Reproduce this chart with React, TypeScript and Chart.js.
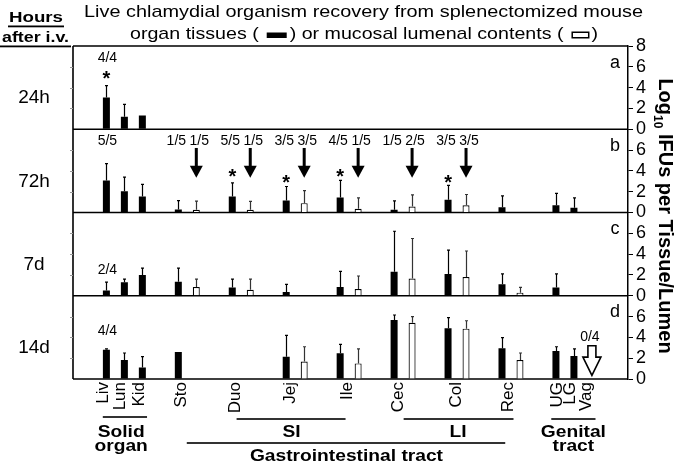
import React, { useEffect, useRef } from 'react';
import { Chart, registerables } from 'chart.js';
Chart.register(...registerables);

const FONT = '"Liberation Sans", Arial, Helvetica, sans-serif';

// ---- categories ----
const organs = ['Liv', 'Lun', 'Kid', 'Sto', 'Duo', 'Jej', 'Ile', 'Cec', 'Col', 'Rec', 'UG', 'LG', 'Vag'];
const tissueSlot = [0, 1, 2, 4, 7, 10, 13, 16, 19, 22, 25, 26, 27];
const lumenSlot = [null, null, null, 5, 8, 11, 14, 17, 20, 23, null, null, null];
const organLabelPos = [-0.15, 0.8, 1.85, 4.15, 7.15, 10.25, 13.4, 16.25, 19.45, 22.35, 25.05, 25.8, 26.7];
const timeLabels = ['24h', '72h', '7d', '14d'];
const panelLetters = ['a', 'b', 'c', 'd'];

// ---- values (log10 IFUs) and upward SD ----
const tissue24h = [3.05, 1.2, 1.33, null, null, null, null, null, null, null, null, null, null];
const tissue24hSD = [1.15, 1.2, null, null, null, null, null, null, null, null, null, null, null];
const lumen24h = [null, null, null, null, null, null, null, null, null, null, null, null, null];
const lumen24hSD = [null, null, null, null, null, null, null, null, null, null, null, null, null];

const tissue72h = [3.08, 2.05, 1.54, 0.29, 1.54, 1.15, 1.44, 0.26, 1.22, 0.51, 0.7, 0.45, 0.04];
const tissue72hSD = [1.62, 1.35, 1.16, 0.86, 1.31, 1.35, 1.64, 0.86, 1.38, 1.09, 1.13, 0.95, null];
const lumen72h = [null, null, null, 0.26, 0.26, 0.9, 0.35, 0.58, 0.7, 0.04, null, null, null];
const lumen72hSD = [null, null, null, 0.84, 0.8, 1.2, 1.05, 1.12, 1.03, null, null, null, null];

const tissue7d = [0.5, 1.3, 2.0, 1.35, 0.8, 0.35, 0.84, 2.3, 2.09, 1.1, 0.8, null, null];
const tissue7dSD = [0.8, 0.3, 0.66, 1.31, 0.8, 0.75, 1.5, 3.9, 2.3, 1.0, 1.3, null, null];
const lumen7d = [null, null, null, 0.84, 0.58, null, 0.65, 1.65, 1.8, 0.3, null, null, null];
const lumen7dSD = [null, null, null, 0.76, 1.02, null, 1.25, 3.85, 2.5, 0.5, null, null, null];

const tissue14d = [2.8, 1.83, 1.1, 2.6, null, 2.15, 2.47, 5.67, 4.87, 2.95, 2.7, 2.2, null];
const tissue14dSD = [0.1, 0.67, 1.05, null, null, 2.05, 0.86, 0.48, 1.03, 1.02, 0.4, 0.7, null];
const lumen14d = [null, null, null, null, null, 1.67, 1.5, 5.4, 4.84, 1.83, null, null, null];
const lumen14dSD = [null, null, null, null, null, 1.43, 1.4, 0.6, 0.76, 0.67, null, null, null];

// ---- annotations ----
const fractionNotes = [
  { panel: 0, organ: 0, lumen: false, text: '4/4', y: 6.8 },
  { panel: 1, organ: 0, lumen: false, text: '5/5', y: 6.9 },
  { panel: 1, organ: 3, lumen: false, text: '1/5', y: 6.9 },
  { panel: 1, organ: 3, lumen: true, text: '1/5', y: 6.9 },
  { panel: 1, organ: 4, lumen: false, text: '5/5', y: 6.9 },
  { panel: 1, organ: 4, lumen: true, text: '1/5', y: 6.9 },
  { panel: 1, organ: 5, lumen: false, text: '3/5', y: 6.9 },
  { panel: 1, organ: 5, lumen: true, text: '3/5', y: 6.9 },
  { panel: 1, organ: 6, lumen: false, text: '4/5', y: 6.9 },
  { panel: 1, organ: 6, lumen: true, text: '1/5', y: 6.9 },
  { panel: 1, organ: 7, lumen: false, text: '1/5', y: 6.9 },
  { panel: 1, organ: 7, lumen: true, text: '2/5', y: 6.9 },
  { panel: 1, organ: 8, lumen: false, text: '3/5', y: 6.9 },
  { panel: 1, organ: 8, lumen: true, text: '3/5', y: 6.9 },
  { panel: 2, organ: 0, lumen: false, text: '2/4', y: 2.5 },
  { panel: 3, organ: 0, lumen: false, text: '4/4', y: 4.6 },
  { panel: 3, organ: 12, lumen: false, text: '0/4', y: 4.0 },
];
const starNotes = [
  { panel: 0, organ: 0, y: 5.35 },
  { panel: 1, organ: 4, y: 3.85 },
  { panel: 1, organ: 5, y: 3.27 },
  { panel: 1, organ: 6, y: 3.85 },
  { panel: 1, organ: 8, y: 3.27 },
];
const arrowOrgans72h = [3, 4, 5, 6, 7, 8];
const hollowArrowOrgan14d = 12;

const groups = [
  { lines: ['Solid', 'organ'], from: -0.2, to: 2.26, textAt: 0.82, row: 0 },
  { lines: ['SI'], from: 7.24, to: 13.3, textAt: 10.3, row: 0 },
  { lines: ['LI'], from: 16.53, to: 22.64, textAt: 19.56, row: 0 },
  { lines: ['Genital', 'tract'], from: 24.74, to: 27.2, textAt: 25.97, row: 0 },
  { lines: ['Gastrointestinal tract'], from: 4.47, to: 22.18, textAt: 13.35, row: 1 },
];

const axisIds = ['ya', 'yb', 'yc', 'yd'];
const panelData = [
  { t: tissue24h, tsd: tissue24hSD, l: lumen24h, lsd: lumen24hSD },
  { t: tissue72h, tsd: tissue72hSD, l: lumen72h, lsd: lumen72hSD },
  { t: tissue7d, tsd: tissue7dSD, l: lumen7d, lsd: lumen7dSD },
  { t: tissue14d, tsd: tissue14dSD, l: lumen14d, lsd: lumen14dSD },
];

function buildSeries(values: (number | null)[], sds: (number | null)[], slots: (number | null)[]) {
  const data: { x: number; y: number }[] = [];
  const sd: (number | null)[] = [];
  values.forEach((v, i) => {
    if (v == null || slots[i] == null) return;
    data.push({ x: slots[i] as number, y: v });
    sd.push(sds[i]);
  });
  return { data, sd };
}

const datasets: any[] = [];
panelData.forEach((p, pi) => {
  const t = buildSeries(p.t, p.tsd, tissueSlot);
  const l = buildSeries(p.l, p.lsd, lumenSlot);
  datasets.push({
    label: 'tissue ' + timeLabels[pi], data: t.data, sd: t.sd, yAxisID: axisIds[pi],
    backgroundColor: '#000', borderWidth: 0, grouped: false, maxBarThickness: 7,
  });
  datasets.push({
    label: 'lumen ' + timeLabels[pi], data: l.data, sd: l.sd, yAxisID: axisIds[pi],
    backgroundColor: '#fff', borderColor: '#000', borderWidth: 1.2, grouped: false, maxBarThickness: 7,
  });
});

function drawText(ctx: CanvasRenderingContext2D, s: string, x: number, y: number, font: string,
  o: { align?: CanvasTextAlign; baseline?: CanvasTextBaseline; sx?: number; width?: number } = {}) {
  ctx.save();
  ctx.font = font;
  ctx.fillStyle = '#000';
  ctx.textAlign = o.align || 'center';
  ctx.textBaseline = o.baseline || 'alphabetic';
  const w = ctx.measureText(s).width;
  const sx = o.width ? o.width / w : (o.sx || 1);
  ctx.translate(x, y);
  ctx.scale(sx, 1);
  ctx.fillText(s, 0, 0);
  ctx.restore();
}

const decor = {
  id: 'decor',
  beforeDatasetsDraw(chart: any) {
    const { ctx, chartArea: ca, scales } = chart;
    ctx.save();
    ctx.strokeStyle = '#000';
    ctx.lineWidth = 1.6;
    ctx.beginPath();
    const top = scales.ya.getPixelForValue(8);
    ctx.moveTo(ca.left, top); ctx.lineTo(ca.right, top);
    axisIds.forEach((id) => {
      const y0 = scales[id].getPixelForValue(0);
      ctx.moveTo(ca.left, y0); ctx.lineTo(ca.right, y0);
    });
    ctx.moveTo(ca.left, top); ctx.lineTo(ca.left, ca.bottom);
    ctx.stroke();
    ctx.strokeStyle = '#999';
    ctx.lineWidth = 1;
    ctx.beginPath();
    axisIds.forEach((id) => {
      [2, 4, 6].forEach((v) => {
        const y = Math.round(scales[id].getPixelForValue(v)) + 0.5;
        ctx.moveTo(ca.left - 3, y); ctx.lineTo(ca.left, y);
      });
    });
    ctx.stroke();
    ctx.restore();
  },
  afterDatasetsDraw(chart: any) {
    const { ctx, scales } = chart;
    ctx.save();
    chart.data.datasets.forEach((ds: any, di: number) => {
      const meta = chart.getDatasetMeta(di);
      const ys = scales[ds.yAxisID];
      meta.data.forEach((el: any, i: number) => {
        const sd = ds.sd[i];
        if (sd == null) return;
        const v = ds.data[i].y;
        const topY = ys.getPixelForValue(v + sd);
        const x = Math.round(el.x) + 0.5;
        ctx.strokeStyle = di % 2 ? '#333' : '#000';
        ctx.lineWidth = 1.2;
        ctx.beginPath();
        ctx.moveTo(x, el.y); ctx.lineTo(x, topY);
        ctx.moveTo(x - 1.5, topY); ctx.lineTo(x + 1.5, topY);
        ctx.stroke();
      });
    });
    ctx.restore();
  },
  afterDraw(chart: any) {
    const { ctx, chartArea: ca, scales } = chart;
    const xs = scales.x;
    const px = (slot: number) => xs.getPixelForValue(slot);
    ctx.save();

    // Title
    const tFont = '17px ' + FONT;
    drawText(ctx, 'Live chlamydial organism recovery from splenectomized mouse', 363.5, 17, tFont, { width: 559 });
    ctx.font = tFont;
    const s1 = 'organ tissues (', s2 = ') or mucosal lumenal contents (', s3 = ')';
    const w1 = ctx.measureText(s1).width, w2 = ctx.measureText(s2).width, w3 = ctx.measureText(s3).width;
    const r1 = 20, r2 = 18, g1 = 8, g2 = 3, g3 = 8, g4 = 2;
    const totalW = 468;
    const sx = (totalW - r1 - r2 - g1 - g2 - g3 - g4) / (w1 + w2 + w3);
    let cx = 364 - totalW / 2;
    const by = 39;
    drawText(ctx, s1, cx, by, tFont, { align: 'left', sx }); cx += w1 * sx + g1;
    ctx.fillStyle = '#000'; ctx.fillRect(cx, 32.5, r1, 5.5); cx += r1 + g2;
    drawText(ctx, s2, cx, by, tFont, { align: 'left', sx }); cx += w2 * sx + g3;
    ctx.fillStyle = '#fff'; ctx.fillRect(cx, 32, r2, 6);
    ctx.strokeStyle = '#000'; ctx.lineWidth = 1.5; ctx.strokeRect(cx + 0.75, 32.25, r2 - 1.5, 5.5); cx += r2 + g4;
    drawText(ctx, s3, cx, by, tFont, { align: 'left', sx });

    // Hours after i.v.
    const hFont = 'bold 15px ' + FONT;
    drawText(ctx, 'Hours', 36, 22, hFont, { width: 54 });
    drawText(ctx, 'after i.v.', 35.5, 42, hFont, { width: 67 });
    ctx.fillStyle = '#000';
    ctx.fillRect(8, 25.5, 56, 1.8);
    ctx.fillRect(0, 45.5, 71, 1.8);

    // time labels and panel letters
    axisIds.forEach((id, pi) => {
      const ys = scales[id];
      drawText(ctx, timeLabels[pi], 34, ys.getPixelForValue(3), '19px ' + FONT, { baseline: 'middle' });
      drawText(ctx, panelLetters[pi], ca.right - 13, ys.getPixelForValue(6.4), '18px ' + FONT, { baseline: 'middle' });
    });

    // fractions
    fractionNotes.forEach((f) => {
      const slot = f.lumen ? lumenSlot[f.organ] : tissueSlot[f.organ];
      const y = scales[axisIds[f.panel]].getPixelForValue(f.y);
      const dx = f.organ === 12 ? -2 : f.lumen ? 3 : (f.organ >= 3 ? -2 : 1);
      drawText(ctx, f.text, px(slot as number) + dx, y, '14px ' + FONT, { baseline: 'middle' });
    });

    // asterisks
    starNotes.forEach((s) => {
      const y = scales[axisIds[s.panel]].getPixelForValue(s.y);
      drawText(ctx, '*', px(tissueSlot[s.organ]), y + 11, 'bold 20px ' + FONT);
    });

    // solid arrows (72h)
    const yb = scales.yb;
    ctx.fillStyle = '#000';
    ctx.strokeStyle = '#000';
    arrowOrgans72h.forEach((o) => {
      const x = px(lumenSlot[o] as number);
      const yTop = yb.getPixelForValue(6.2), yHead = yb.getPixelForValue(4.5), yTip = yb.getPixelForValue(3.35);
      ctx.fillRect(x - 1.5, yTop, 3, yHead - yTop + 1);
      ctx.beginPath();
      ctx.moveTo(x - 6.5, yHead); ctx.lineTo(x + 6.5, yHead); ctx.lineTo(x, yTip); ctx.closePath();
      ctx.fill();
    });

    // hollow arrow (14d, Vag)
    const yd = scales.yd;
    {
      const x = px(tissueSlot[hollowArrowOrgan14d]);
      const yTop = yd.getPixelForValue(3.2), yHead = yd.getPixelForValue(2.1), yTip = yd.getPixelForValue(0.35);
      ctx.beginPath();
      ctx.moveTo(x - 4, yTop); ctx.lineTo(x + 4, yTop); ctx.lineTo(x + 4, yHead);
      ctx.lineTo(x + 9, yHead); ctx.lineTo(x, yTip); ctx.lineTo(x - 9, yHead); ctx.lineTo(x - 4, yHead);
      ctx.closePath();
      ctx.fillStyle = '#fff'; ctx.fill();
      ctx.lineWidth = 1.6; ctx.strokeStyle = '#000'; ctx.stroke();
    }

    // group brackets
    const gFont = 'bold 16px ' + FONT;
    groups.forEach((g) => {
      const lineY = g.row === 0 ? (g.from < 0 ? 417 : 419) : 443;
      ctx.fillStyle = '#000';
      ctx.fillRect(px(g.from), lineY - 0.8, px(g.to) - px(g.from), 1.6);
      g.lines.forEach((ln, li) => {
        const base = g.row === 0 ? 437 + li * 14 : 461;
        drawText(ctx, ln, px(g.textAt), base, gFont, { sx: 1.2 });
      });
    });

    // right axis title
    ctx.save();
    ctx.translate(659, 216);
    ctx.rotate(Math.PI / 2);
    const big = 'bold 20px ' + FONT, small = 'bold 12px ' + FONT;
    ctx.font = big; const a1 = ctx.measureText('Log').width;
    const a3 = ctx.measureText(' IFUs per Tissue/Lumen').width;
    ctx.font = small; const a2 = ctx.measureText('10').width;
    const tot = a1 + a2 + a3;
    let tx = -tot / 2;
    ctx.fillStyle = '#000';
    ctx.textAlign = 'left'; ctx.textBaseline = 'alphabetic';
    ctx.font = big; ctx.fillText('Log', tx, 0); tx += a1;
    ctx.font = small; ctx.fillText('10', tx, 5); tx += a2;
    ctx.font = big; ctx.fillText(' IFUs per Tissue/Lumen', tx, 0);
    ctx.restore();

    ctx.restore();
  },
};

function yAxis(hideTop: boolean) {
  return {
    type: 'linear',
    position: 'right',
    stack: 'panels',
    stackWeight: 1,
    min: 0,
    max: 8,
    afterFit: (s: any) => { s.width = 47; },
    ticks: {
      stepSize: 2,
      autoSkip: false,
      color: '#000',
      padding: 3,
      font: { size: 18, family: FONT },
      callback: (v: number) => (hideTop && v === 8 ? '' : String(v)),
    },
    grid: { drawOnChartArea: false, drawTicks: true, tickLength: 5, color: '#000', lineWidth: 1 },
    border: { display: true, color: '#000', width: 1.5 },
  };
}

export default function App() {
  const ref = useRef<HTMLCanvasElement>(null);
  useEffect(() => {
    Chart.defaults.font.family = FONT;
    const chart = new Chart(ref.current as HTMLCanvasElement, {
      type: 'bar',
      data: { datasets },
      plugins: [decor],
      options: {
        animation: false,
        responsive: false,
        devicePixelRatio: 1,
        layout: { padding: { left: 73, top: 46, right: 0, bottom: 0 } },
        plugins: { legend: { display: false }, tooltip: { enabled: false }, title: { display: false } },
        scales: {
          x: {
            type: 'linear',
            position: 'bottom',
            min: -0.67,
            max: 27.82,
            afterBuildTicks: (s: any) => { s.ticks = organLabelPos.map((v) => ({ value: v })); },
            afterFit: (s: any) => { s.height = 84; },
            ticks: {
              autoSkip: false,
              maxRotation: 90,
              minRotation: 90,
              padding: 3,
              color: '#000',
              font: { size: 17, family: FONT },
              callback: (_v: any, i: number) => organs[i],
            },
            grid: { display: false, drawTicks: false },
            border: { display: false },
          },
          ya: yAxis(false),
          yb: yAxis(true),
          yc: yAxis(true),
          yd: yAxis(true),
        } as any,
      } as any,
    } as any);
    return () => chart.destroy();
  }, []);
  return (
    <div style={{ position: 'fixed', left: 0, top: 0, width: 675, height: 463, background: '#fff' }}>
      <canvas ref={ref} width={675} height={463} style={{ display: 'block' }} />
    </div>
  );
}
